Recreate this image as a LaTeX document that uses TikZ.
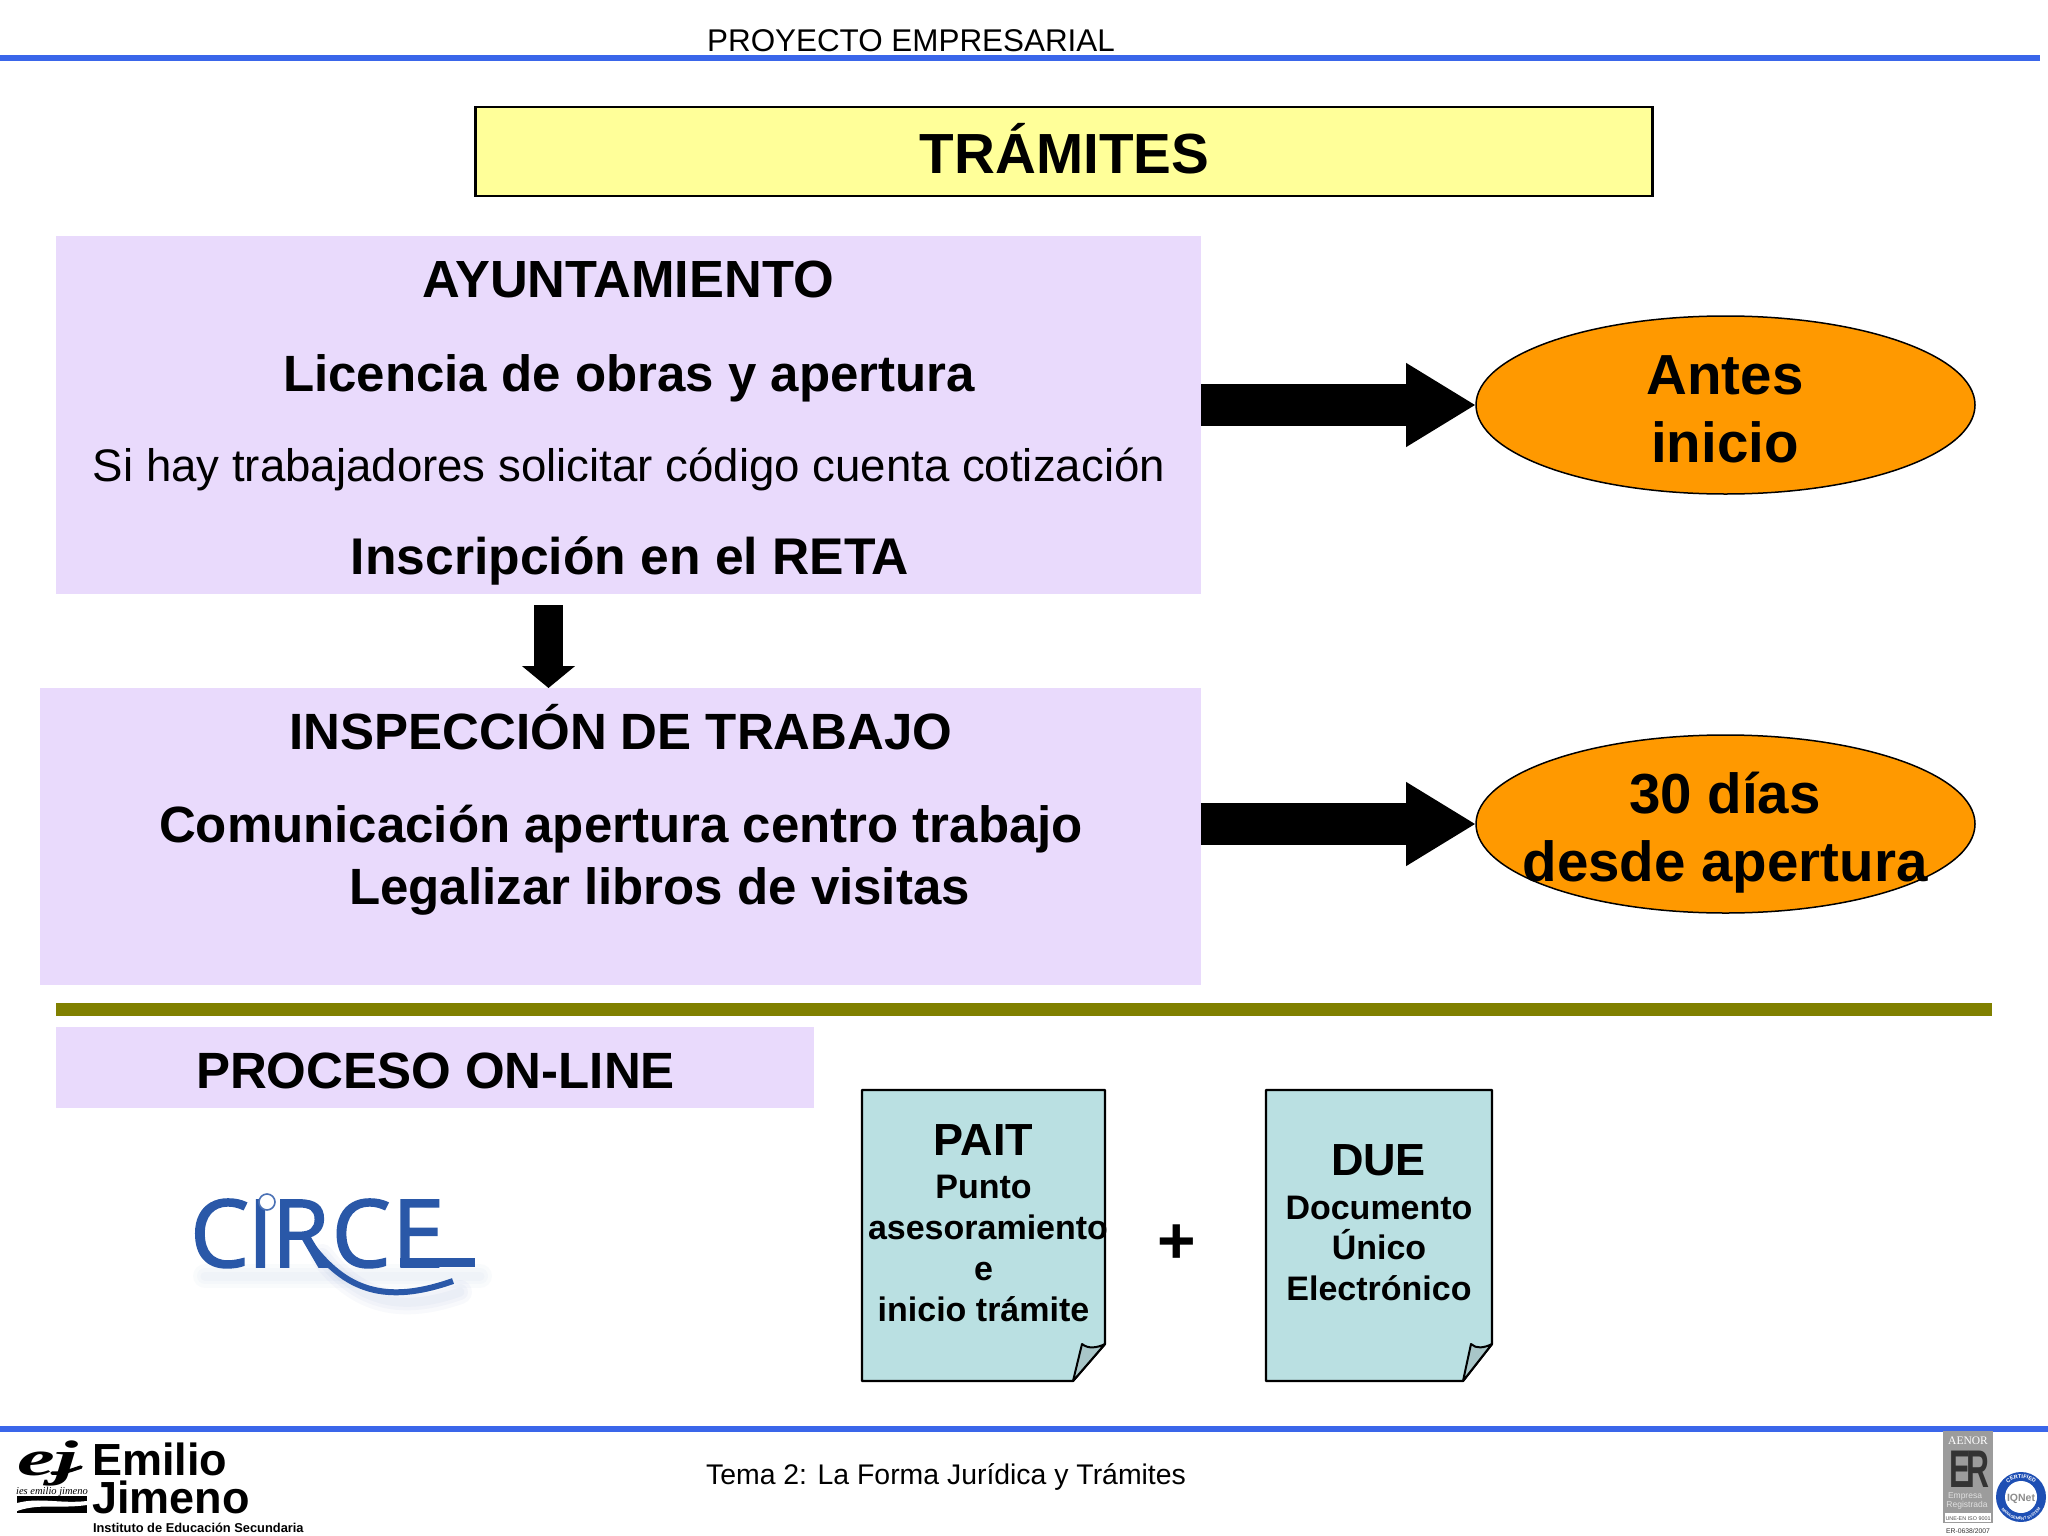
\documentclass[tikz,border=0pt]{standalone}
\usepackage{fontspec}
\setmainfont{Liberation Sans}
\newfontfamily\serifx{Liberation Serif}
\newfontfamily\opensans[FakeBold=1.6]{Open Sans}
\usetikzlibrary{arrows.meta,shapes.geometric,decorations.text}
\definecolor{blueline}{HTML}{3A66EA}
\definecolor{lilac}{HTML}{E9DAFC}
\definecolor{paleyel}{HTML}{FFFF99}
\definecolor{orangex}{HTML}{FF9900}
\definecolor{olivex}{HTML}{808000}
\definecolor{notefill}{HTML}{BAE0E2}
\definecolor{foldfill}{HTML}{A8C6C8}
\definecolor{circeblue}{HTML}{2A58A8}
\definecolor{aenorgray}{HTML}{9C9C9C}
\definecolor{iqblue}{HTML}{1E4FB4}
\newcommand{\fsz}[1]{\fontsize{#1}{#1}\selectfont}
\tikzset{
  x=1pt,y=-1pt,
  txt/.style={inner sep=0pt,outer sep=0pt,anchor=base,text=black},
  hb/.style={txt,font=\fsz{51}\bfseries},
  hc/.style={txt,font=\fsz{45}\bfseries},
  noteb/.style={txt,font=\fsz{34}\bfseries},
  ovalt/.style={txt,font=\fsz{56.5}\bfseries},
  panel/.style={rectangle,fill=lilac,inner sep=0pt,outer sep=0pt},
  oval/.style={ellipse,draw=black,line width=1.5pt,fill=orangex,inner sep=0pt,outer sep=0pt,minimum width=499pt,minimum height=178pt},
  blockarrow/.style={-{Triangle[length=70pt,width=79pt]},line width=42pt,black},
  downarrow/.style={-{Triangle[length=22pt,width=52pt]},line width=29pt,black},
  notepage/.style={draw=black,line width=2.2pt,fill=notefill,line join=round},
  notefold/.style={draw=black,line width=2pt,fill=foldfill,line join=round},
  rulex/.style={line width=6pt,blueline},
}
\begin{document}
\begin{tikzpicture}
\useasboundingbox (0,0) rectangle (2048,1536);
\fill[white] (0,0) rectangle (2048,1536);

% header / footer
\draw[rulex] (0,58) -- (2040,58);
\draw[rulex] (0,1429) -- (2048,1429);
\node[txt,font=\fsz{31.4}] (head) at (911,52) {PROYECTO EMPRESARIAL};
\node[txt,font=\fsz{28.4}] (foot) at (946,1484.5) {Tema 2: La Forma Jurídica y Trámites};

% title
\node[rectangle,draw=black,line width=2.4pt,fill=paleyel,minimum width=1177pt,minimum height=89pt,inner sep=0pt,outer sep=0pt] (title) at (1064,151.5) {};
\node[txt,font=\fsz{56.6}\bfseries] (titlet) at (1064.5,174) {TRÁMITES};

% panels
\node[panel,minimum width=1145pt,minimum height=358pt] (box1) at (628.5,415) {};
\node[panel,minimum width=1161pt,minimum height=297pt] (box2) at (620.5,836.5) {};
\node[panel,minimum width=758pt,minimum height=81pt] (box3) at (435,1067.5) {};

\node[txt,font=\fsz{52.3}\bfseries] (t1) at (628,297) {AYUNTAMIENTO};
\node[hb] (t2) at (629,391) {Licencia de obras y apertura};
\node[txt,font=\fsz{45.6}] (t3) at (629,481) {Si hay trabajadores solicitar código cuenta cotización};
\node[txt,font=\fsz{51.6}\bfseries] (t4) at (630,574) {Inscripción en el RETA};
\node[hb] (t5) at (621,749) {INSPECCIÓN DE TRABAJO};
\node[hb] (t6) at (621,842) {Comunicación apertura centro trabajo};
\node[hb] (t7) at (659.5,904) {Legalizar libros de visitas};
\node[hb] (t8) at (435.5,1088) {PROCESO ON-LINE};

% ovals
\node[oval] (ell1) at (1725.5,405) {};
\node[oval] (ell2) at (1725.5,824) {};
\node[ovalt] (o1) at (1725,394) {Antes};
\node[ovalt] (o2) at (1725,462) {inicio};
\node[ovalt] (o3) at (1725,813) {30 días};
\node[ovalt] (o4) at (1725,881) {desde apertura};

% arrows
\draw[blockarrow] (box1.east |- ell1.west) -- (ell1.west);
\draw[blockarrow] (box2.east |- ell2.west) -- (ell2.west);
\coordinate (da) at (548.5,605);
\draw[downarrow] (da) -- (da |- box2.north);

% olive rule
\fill[olivex] (56,1003) rectangle (1992,1016);

% notes
\draw[notepage] (862,1090) -- (1105,1090) -- (1105,1344) -- (1073,1381) -- (862,1381) -- cycle;
\draw[notefold] (1105,1344) .. controls (1097,1348) and (1088,1349) .. (1082,1344) -- (1073,1381) -- cycle;
\draw[notepage] (1266,1090) -- (1492,1090) -- (1492,1344) -- (1463,1381) -- (1266,1381) -- cycle;
\draw[notefold] (1492,1344) .. controls (1484,1348) and (1476,1349) .. (1471,1344) -- (1463,1381) -- cycle;

\node[hc] (n1) at (983.5,1155) {PAIT};
\node[noteb] (n2) at (983.5,1198) {Punto};
\node[noteb] (n3) at (988,1239) {asesoramiento};
\node[noteb] (n4) at (983.5,1280) {e};
\node[noteb] (n5) at (983.5,1321) {inicio trámite};
\node[hc] (d1) at (1378.5,1175) {DUE};
\node[noteb] (d2) at (1379,1219) {Documento};
\node[noteb] (d3) at (1379,1259) {Único};
\node[noteb] (d4) at (1379,1300) {Electrónico};
\node[txt,font=\fsz{66}\bfseries] (plus) at (1177,1263) {+};

% CIRCE logo: soft shadow, letters, ring, swoosh
\foreach \w in {24,16,9}{
  \draw[circeblue,opacity=.03,line width=\w pt,line cap=round] (322,1256) .. controls (355,1298) and (395,1315) .. (460,1292);
  \draw[circeblue,opacity=.025,line width=\w pt,line cap=round] (205,1276) -- (480,1276);
}
\node[txt,anchor=base west,font=\opensans\fsz{94},text=circeblue] (circe) at (190,1267) {C\kern-2pt I\kern-2pt R\kern2pt C\kern1pt E};
\draw[circeblue!85,line width=1.6pt,fill=white] (267,1202) circle (8);
\fill[circeblue] (400,1258) rectangle (475,1267);
\draw[circeblue,line width=6pt] (310,1243) .. controls (345,1290) and (385,1305) .. (453,1281);

% Emilio Jimeno logo
\node[txt,anchor=base west,font=\fsz{45}\bfseries] (em) at (92,1475) {Emilio};
\node[txt,anchor=base west,font=\fsz{45}\bfseries] (ji) at (92,1513.5) {Jimeno};
\node[txt,anchor=base west,font=\fsz{12.85}\bfseries] (ins) at (93,1532) {Instituto de Educación Secundaria};
\node[txt,anchor=base west,font=\serifx\fsz{50}\bfseries\itshape,xscale=1.7,transform shape] (ej) at (17,1475) {ej};
\draw[line width=3.5pt,line cap=round] (52,1473) .. controls (62,1474) and (72,1470) .. (81,1467);
\node[txt,font=\serifx\fsz{10.5}\itshape] (ies) at (52,1494.5) {ies emilio jimeno};
\fill[black] (17,1496) rectangle (87,1513);
\fill[white] (17,1503) .. controls (40,1497) and (60,1504) .. (87,1501) -- (87,1505) .. controls (60,1509) and (40,1503) .. (17,1511) -- cycle;

% AENOR logo
\fill[aenorgray] (1943,1431) rectangle (1993,1523);
\node[txt,font=\serifx\fsz{11.5},text=white] (ae) at (1968,1444) {AENOR};
\node[txt,font=\fsz{53}\bfseries,text=black!80,xscale=.6,transform shape] (er) at (1969.5,1487) {E\kern-8pt R};
\node[txt,font=\fsz{8.5},text=black!12] (em1) at (1965,1498) {Empresa};
\node[txt,font=\fsz{8.5},text=black!12] (em2) at (1967,1507) {Registrada};
\fill[white] (1945,1513) rectangle (1991,1522);
\node[txt,font=\fsz{5.4},text=black!70] (une) at (1968,1520) {UNE-EN ISO 9001};
\node[txt,font=\fsz{6.8},text=black!80] (ern) at (1968,1533) {ER-0638/2007};

% IQNet seal
\fill[iqblue] (2021,1497) circle (25);
\fill[white] (2021,1497) circle (16);
\node[txt,font=\fsz{10.5}\bfseries,text=black!45] (iq) at (2021,1501) {IQNet};
\path[postaction={decorate,decoration={text along path,text align=center,text={|\fsz{5.5}\bfseries\color{white}|CERTIFIED}}}]
  (2002,1497) arc[start angle=180,end angle=0,radius=19pt];
\path[postaction={decorate,decoration={text along path,text align=center,text={|\fsz{4}\bfseries\color{white}|MANAGEMENT SYSTEM}}}]
  (1998,1497) arc[start angle=180,end angle=360,radius=23pt];
\end{tikzpicture}
\end{document}
